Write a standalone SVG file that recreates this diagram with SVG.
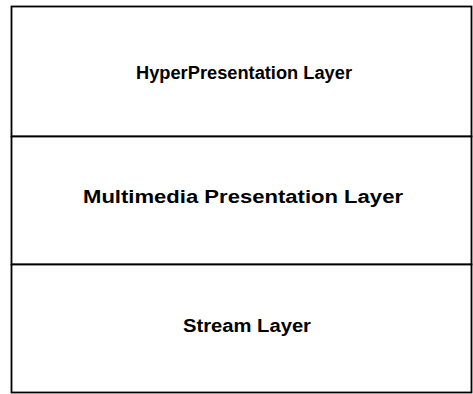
<svg xmlns="http://www.w3.org/2000/svg" width="473" height="394" viewBox="0 0 473 394">
<style>
.box{fill:#fff;stroke:#000;stroke-width:1.8}
.lbl{font-family:"Liberation Sans",Arial,sans-serif;font-weight:bold;font-size:18px;fill:#000;text-anchor:middle}
</style>
<rect width="473" height="394" fill="#fff"/>
<g id="hyper">
<rect class="box" x="11.5" y="6.5" width="460" height="130"/>
<text class="lbl" x="244" y="79" textLength="216" lengthAdjust="spacingAndGlyphs">HyperPresentation Layer</text>
</g>
<g id="multimedia">
<rect class="box" x="11.5" y="136.5" width="460" height="128"/>
<text class="lbl" x="243" y="203" textLength="320" lengthAdjust="spacingAndGlyphs">Multimedia Presentation Layer</text>
</g>
<g id="stream">
<rect class="box" x="11.5" y="264.5" width="460" height="128"/>
<text class="lbl" x="247" y="332" textLength="128" lengthAdjust="spacingAndGlyphs">Stream Layer</text>
</g>
<g id="connectors"></g>
</svg>
